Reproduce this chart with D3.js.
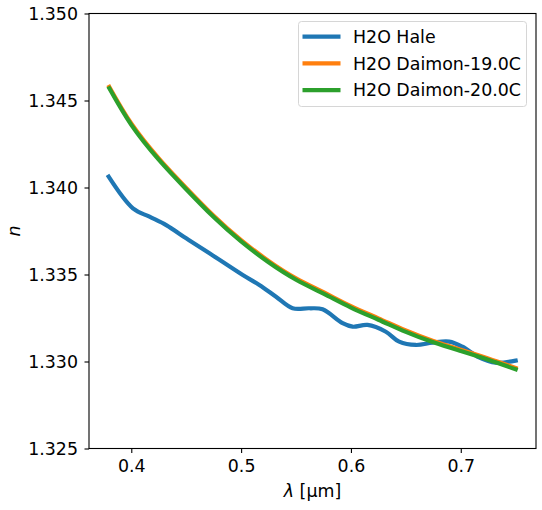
<!DOCTYPE html>
<html>
<head>
<meta charset="utf-8">
<script src="https://cdn.jsdelivr.net/npm/d3@7"></script>
<style>
  body { margin: 0; background: #fff; }
  text { font-family: "DejaVu Sans", sans-serif; fill: #000; }
</style>
</head>
<body>
<script>
// Hale
var haleWl = [0.3794, 0.4015, 0.4166, 0.4318, 0.45, 0.4712, 0.5015, 0.5166, 0.5318, 0.5469, 0.5621, 0.5742, 0.5924, 0.6015, 0.6151, 0.6318, 0.6439, 0.6591, 0.6742, 0.6894, 0.7015, 0.7166, 0.7318, 0.75];
var haleN  = [1.34062, 1.33880, 1.33832, 1.33784, 1.33708, 1.33622, 1.33497, 1.33440, 1.33372, 1.33306, 1.33306, 1.33300, 1.33220, 1.33200, 1.33210, 1.33171, 1.33114, 1.33095, 1.33108, 1.33114, 1.33085, 1.33024, 1.32993, 1.33005];

// Daimon curves
var daimonWl = [0.38, 0.40, 0.425, 0.45, 0.475, 0.50, 0.525, 0.55, 0.575, 0.60, 0.625, 0.65, 0.675, 0.70, 0.725, 0.75];
var daimon19 = [1.34578, 1.34368, 1.34168, 1.33998, 1.33838, 1.33698, 1.33578, 1.33478, 1.33398, 1.33318, 1.33248, 1.33178, 1.33118, 1.33068, 1.33018, 1.32963];
var daimon20 = [1.34570, 1.34360, 1.34160, 1.33990, 1.33830, 1.33690, 1.33570, 1.33470, 1.33390, 1.33310, 1.33240, 1.33170, 1.33110, 1.33060, 1.33010, 1.32955];

var seriesNames = ["H2O Hale", "H2O Daimon-19.0C", "H2O Daimon-20.0C"];
var colors = ["#1f77b4", "#ff7f0e", "#2ca02c"];

var xTicks = [0.4, 0.5, 0.6, 0.7];
var yTicks = [1.325, 1.330, 1.335, 1.340, 1.345, 1.350];

var width = 542, height = 510;
var margin = {left: 89, right: 6, top: 13.5, bottom: 61.5};
var fs = "17.4px";

var svg = d3.select("body").append("svg")
    .attr("width", width)
    .attr("height", height);

var xScale = d3.scaleLinear()
    .domain([0.3615, 0.7685])
    .range([margin.left, width - margin.right]);

var yScale = d3.scaleLinear()
    .domain([1.325, 1.350])
    .range([height - margin.bottom, margin.top]);

var series = [
    {name: seriesNames[0], color: colors[0], pts: haleWl.map(function(w, i){ return [w, haleN[i]]; }), curve: d3.curveCatmullRom},
    {name: seriesNames[1], color: colors[1], pts: daimonWl.map(function(w, i){ return [w, daimon19[i]]; }), curve: d3.curveNatural},
    {name: seriesNames[2], color: colors[2], pts: daimonWl.map(function(w, i){ return [w, daimon20[i]]; }), curve: d3.curveNatural}
];

// lines
series.forEach(function(s){
    var line = d3.line()
        .x(function(d){ return xScale(d[0]); })
        .y(function(d){ return yScale(d[1]); })
        .curve(s.curve);
    svg.append("path")
        .attr("d", line(s.pts))
        .attr("fill", "none")
        .attr("stroke", s.color)
        .attr("stroke-width", 4.2)
        .attr("stroke-linecap", "square");
});

// axes
var xAxis = svg.append("g")
    .attr("transform", "translate(0," + (height - margin.bottom) + ")")
    .call(d3.axisBottom(xScale).tickValues(xTicks).tickSize(4.5).tickPadding(6.5).tickFormat(d3.format(".1f")));

var yAxis = svg.append("g")
    .attr("transform", "translate(" + margin.left + ",0)")
    .call(d3.axisLeft(yScale).tickValues(yTicks).tickSize(4.5).tickPadding(6.5).tickFormat(d3.format(".3f")));

[xAxis, yAxis].forEach(function(g){
    g.attr("font-size", null).attr("font-family", null);
    g.select(".domain").remove();
    g.selectAll("line").attr("stroke", "#000").attr("stroke-width", 1.1);
    g.selectAll("text").style("font-size", fs).attr("fill", "#000");
});

// frame
svg.append("rect")
    .attr("x", margin.left)
    .attr("y", margin.top)
    .attr("width", width - margin.right - margin.left)
    .attr("height", height - margin.bottom - margin.top)
    .attr("fill", "none")
    .attr("stroke", "#000")
    .attr("stroke-width", 1.1);

// axis labels
var xl = svg.append("text")
    .attr("x", (margin.left + width - margin.right) / 2)
    .attr("y", 497)
    .attr("text-anchor", "middle")
    .style("font-size", fs);
xl.append("tspan").style("font-style", "italic").text("λ");
xl.append("tspan").text(" [μm]");

svg.append("text")
    .attr("transform", "translate(20," + ((margin.top + height - margin.bottom) / 2) + ") rotate(-90)")
    .attr("text-anchor", "middle")
    .style("font-size", fs)
    .style("font-style", "italic")
    .text("n");

// legend
var legend = svg.append("g").attr("transform", "translate(298.5,21.5)");
legend.append("rect")
    .attr("width", 228)
    .attr("height", 85)
    .attr("rx", 3)
    .attr("fill", "#fff")
    .attr("fill-opacity", 0.8)
    .attr("stroke", "#d6d6d6")
    .attr("stroke-width", 1);

series.forEach(function(s, i){
    var y = 15.2 + i * 26.7;
    legend.append("line")
        .attr("x1", 4).attr("x2", 42)
        .attr("y1", y).attr("y2", y)
        .attr("stroke", s.color)
        .attr("stroke-width", 4.2);
    legend.append("text")
        .attr("x", 54.5)
        .attr("y", y)
        .attr("dy", "0.36em")
        .style("font-size", fs)
        .text(s.name);
});
</script>
</body>
</html>
